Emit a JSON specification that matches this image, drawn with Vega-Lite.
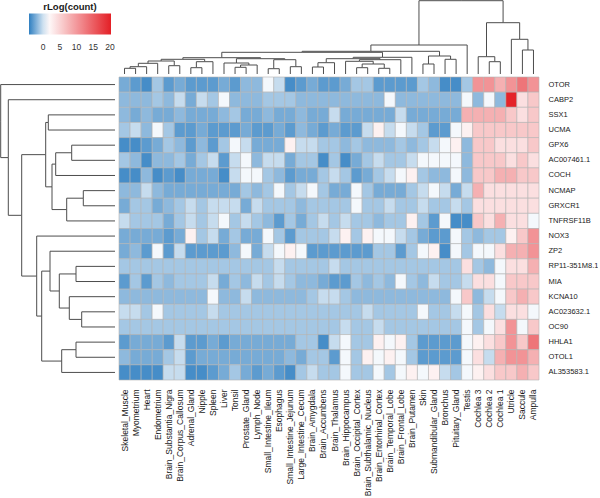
{
"$schema": "https://vega.github.io/schema/vega-lite/v6.json",
"padding": 0,
"background": "white",
"bounds": "flush",
"spacing": 3,
"config": {"view": {"stroke": null}, "font": "Liberation Sans"},
"datasets": {
"rowtree": [
{"ch":0,"cp":0.5,"ph":114.3,"pp":2.91},{"ch":106.7,"cp":5.32,"ph":114.3,"pp":2.91},
{"ch":0,"cp":1.5,"ph":106.7,"pp":5.32},{"ch":93.3,"cp":9.13,"ph":106.7,"pp":5.32},
{"ch":69.3,"cp":5.125,"ph":93.3,"pp":9.13},{"ch":78.3,"cp":13.14,"ph":93.3,"pp":9.13},
{"ch":66.7,"cp":3.0,"ph":69.3,"pp":5.125},{"ch":63,"cp":7.25,"ph":69.3,"pp":5.125},
{"ch":0,"cp":2.5,"ph":66.7,"pp":3.0},{"ch":0,"cp":3.5,"ph":66.7,"pp":3.0},
{"ch":59.3,"cp":5.75,"ph":63,"pp":7.25},{"ch":48.3,"cp":8.75,"ph":63,"pp":7.25},
{"ch":43.3,"cp":5.0,"ph":59.3,"pp":5.75},{"ch":0,"cp":6.5,"ph":59.3,"pp":5.75},
{"ch":0,"cp":4.5,"ph":43.3,"pp":5.0},{"ch":0,"cp":5.5,"ph":43.3,"pp":5.0},
{"ch":31.7,"cp":8.0,"ph":48.3,"pp":8.75},{"ch":0,"cp":9.5,"ph":48.3,"pp":8.75},
{"ch":0,"cp":7.5,"ph":31.7,"pp":8.0},{"ch":0,"cp":8.5,"ph":31.7,"pp":8.0},
{"ch":0,"cp":10.5,"ph":78.3,"pp":13.14},{"ch":73.3,"cp":15.78,"ph":78.3,"pp":13.14},
{"ch":65,"cp":12.8125,"ph":73.3,"pp":15.78},{"ch":53.3,"cp":18.75,"ph":73.3,"pp":15.78},
{"ch":0,"cp":11.5,"ph":65,"pp":12.8125},{"ch":55.7,"cp":14.125,"ph":65,"pp":12.8125},
{"ch":39,"cp":13,"ph":55.7,"pp":14.125},{"ch":45.7,"cp":15.25,"ph":55.7,"pp":14.125},
{"ch":0,"cp":12.5,"ph":39,"pp":13},{"ch":0,"cp":13.5,"ph":39,"pp":13},
{"ch":0,"cp":14.5,"ph":45.7,"pp":15.25},{"ch":33.3,"cp":16,"ph":45.7,"pp":15.25},
{"ch":0,"cp":15.5,"ph":33.3,"pp":16},{"ch":0,"cp":16.5,"ph":33.3,"pp":16},
{"ch":39,"cp":18,"ph":53.3,"pp":18.75},{"ch":0,"cp":19.5,"ph":53.3,"pp":18.75},
{"ch":0,"cp":17.5,"ph":39,"pp":18},{"ch":0,"cp":18.5,"ph":39,"pp":18}
],
"coltree": [
{"ch":0,"cp":0.5,"ph":5.7,"pp":1.0},{"ch":0,"cp":1.5,"ph":5.7,"pp":1.0},
{"ch":5.7,"cp":1.0,"ph":7.3,"pp":1.75},{"ch":0,"cp":2.5,"ph":7.3,"pp":1.75},
{"ch":7.3,"cp":1.75,"ph":10.7,"pp":2.625},{"ch":0,"cp":3.5,"ph":10.7,"pp":2.625},
{"ch":0,"cp":4.5,"ph":8.3,"pp":5.0},{"ch":0,"cp":5.5,"ph":8.3,"pp":5.0},
{"ch":10.7,"cp":2.625,"ph":13,"pp":3.8125},{"ch":8.3,"cp":5.0,"ph":13,"pp":3.8125},
{"ch":0,"cp":6.5,"ph":6.3,"pp":7.0},{"ch":0,"cp":7.5,"ph":6.3,"pp":7.0},
{"ch":6.3,"cp":7.0,"ph":12.3,"pp":7.75},{"ch":0,"cp":8.5,"ph":12.3,"pp":7.75},
{"ch":13,"cp":3.8125,"ph":14.7,"pp":5.78},{"ch":12.3,"cp":7.75,"ph":14.7,"pp":5.78},
{"ch":0,"cp":10.5,"ph":6.7,"pp":11.0},{"ch":0,"cp":11.5,"ph":6.7,"pp":11.0},
{"ch":6.7,"cp":11.0,"ph":9,"pp":11.75},{"ch":0,"cp":12.5,"ph":9,"pp":11.75},
{"ch":0,"cp":9.5,"ph":11,"pp":10.625},{"ch":9,"cp":11.75,"ph":11,"pp":10.625},
{"ch":0,"cp":13.5,"ph":5.3,"pp":14.0},{"ch":0,"cp":14.5,"ph":5.3,"pp":14.0},
{"ch":0,"cp":15.5,"ph":7.3,"pp":16.0},{"ch":0,"cp":16.5,"ph":7.3,"pp":16.0},
{"ch":5.3,"cp":14.0,"ph":14.3,"pp":15.0},{"ch":7.3,"cp":16.0,"ph":14.3,"pp":15.0},
{"ch":11,"cp":10.625,"ph":15.3,"pp":12.81},{"ch":14.3,"cp":15.0,"ph":15.3,"pp":12.81},
{"ch":14.7,"cp":5.78,"ph":16.3,"pp":9.3},{"ch":15.3,"cp":12.81,"ph":16.3,"pp":9.3},
{"ch":0,"cp":17.5,"ph":7,"pp":18.0},{"ch":0,"cp":18.5,"ph":7,"pp":18.0},
{"ch":7,"cp":18.0,"ph":11.3,"pp":18.75},{"ch":0,"cp":19.5,"ph":11.3,"pp":18.75},
{"ch":0,"cp":21.5,"ph":6.3,"pp":22.0},{"ch":0,"cp":22.5,"ph":6.3,"pp":22.0},
{"ch":0,"cp":23.5,"ph":5.7,"pp":24.0},{"ch":0,"cp":24.5,"ph":5.7,"pp":24.0},
{"ch":6.3,"cp":22.0,"ph":10,"pp":23.0},{"ch":5.7,"cp":24.0,"ph":10,"pp":23.0},
{"ch":0,"cp":20.5,"ph":12.7,"pp":21.75},{"ch":10,"cp":23.0,"ph":12.7,"pp":21.75},
{"ch":12.7,"cp":21.75,"ph":14.3,"pp":23.625},{"ch":0,"cp":25.5,"ph":14.3,"pp":23.625},
{"ch":11.3,"cp":18.75,"ph":15.3,"pp":21.19},{"ch":14.3,"cp":23.625,"ph":15.3,"pp":21.19},
{"ch":15.3,"cp":21.19,"ph":16.7,"pp":23.84},{"ch":0,"cp":26.5,"ph":16.7,"pp":23.84},
{"ch":16.3,"cp":9.3,"ph":21.7,"pp":16.57},{"ch":16.7,"cp":23.84,"ph":21.7,"pp":16.57},
{"ch":0,"cp":27.5,"ph":10,"pp":28.0},{"ch":0,"cp":28.5,"ph":10,"pp":28.0},
{"ch":0,"cp":29.5,"ph":14.7,"pp":30.0},{"ch":0,"cp":30.5,"ph":14.7,"pp":30.0},
{"ch":10,"cp":28.0,"ph":18,"pp":29.0},{"ch":14.7,"cp":30.0,"ph":18,"pp":29.0},
{"ch":21.7,"cp":16.57,"ph":22.7,"pp":22.79},{"ch":18,"cp":29.0,"ph":22.7,"pp":22.79},
{"ch":22.7,"cp":22.79,"ph":29,"pp":27.14},{"ch":0,"cp":31.5,"ph":29,"pp":27.14},
{"ch":0,"cp":33.5,"ph":12.3,"pp":34.0},{"ch":0,"cp":34.5,"ph":12.3,"pp":34.0},
{"ch":0,"cp":32.5,"ph":17.3,"pp":33.25},{"ch":12.3,"cp":34.0,"ph":17.3,"pp":33.25},
{"ch":0,"cp":36.5,"ph":24,"pp":37.0},{"ch":0,"cp":37.5,"ph":24,"pp":37.0},
{"ch":0,"cp":35.5,"ph":34.7,"pp":36.25},{"ch":24,"cp":37.0,"ph":34.7,"pp":36.25},
{"ch":17.3,"cp":33.25,"ph":51.3,"pp":34.75},{"ch":34.7,"cp":36.25,"ph":51.3,"pp":34.75},
{"ch":29,"cp":27.14,"ph":73.3,"pp":30.95},{"ch":51.3,"cp":34.75,"ph":73.3,"pp":30.95}
],
"cells": [
{"g":"OTOR","t":"Skeletal_Muscle","v":-2.3},{"g":"OTOR","t":"Myometrium","v":-3.0},{"g":"OTOR","t":"Heart","v":-3.6},{"g":"OTOR","t":"Endometrium","v":-1.1},{"g":"OTOR","t":"Brain_Substantia_Nigra","v":-3.0},{"g":"OTOR","t":"Brain_Corpus_Callosum","v":-2.3},{"g":"OTOR","t":"Adrenal_Gland","v":-3.0},{"g":"OTOR","t":"Nipple","v":-3.0},{"g":"OTOR","t":"Spleen","v":-3.0},{"g":"OTOR","t":"Liver","v":-2.3},{"g":"OTOR","t":"Tonsil","v":-3.0},{"g":"OTOR","t":"Prostate_Gland","v":-1.7},{"g":"OTOR","t":"Lymph_Node","v":-1.7},{"g":"OTOR","t":"Small_Intestine_Ileum","v":1.0},{"g":"OTOR","t":"Esophagus","v":-0.2},{"g":"OTOR","t":"Small_Intestine_Jejunum","v":-3.6},{"g":"OTOR","t":"Large_Intestine_Cecum","v":-3.0},{"g":"OTOR","t":"Brain_Amygdala","v":-2.3},{"g":"OTOR","t":"Brain_Accumbens","v":-3.0},{"g":"OTOR","t":"Brain_Thalamus","v":-3.0},{"g":"OTOR","t":"Brain_Hippocampus","v":-2.3},{"g":"OTOR","t":"Brain_Occipital_Cortex","v":-1.1},{"g":"OTOR","t":"Brain_Subthalamic_Nucleus","v":-1.1},{"g":"OTOR","t":"Brain_Entorhinal_Cortex","v":-3.0},{"g":"OTOR","t":"Brain_Temporal_Lobe","v":-3.0},{"g":"OTOR","t":"Brain_Frontal_Lobe","v":-3.0},{"g":"OTOR","t":"Brain_Putamen","v":-3.0},{"g":"OTOR","t":"Skin","v":-1.1},{"g":"OTOR","t":"Submandibular_Gland","v":-1.7},{"g":"OTOR","t":"Bronchus","v":-3.6},{"g":"OTOR","t":"Pituitary_Gland","v":-3.6},{"g":"OTOR","t":"Testis","v":-1.1},{"g":"OTOR","t":"Cochlea 3","v":10.5},{"g":"OTOR","t":"Cochlea 2","v":10.5},{"g":"OTOR","t":"Cochlea 1","v":8},{"g":"OTOR","t":"Utricle","v":10.5},{"g":"OTOR","t":"Saccule","v":13},{"g":"OTOR","t":"Ampulla","v":10.5},
{"g":"CABP2","t":"Skeletal_Muscle","v":-1.7},{"g":"CABP2","t":"Myometrium","v":-1.7},{"g":"CABP2","t":"Heart","v":-1.7},{"g":"CABP2","t":"Endometrium","v":-1.1},{"g":"CABP2","t":"Brain_Substantia_Nigra","v":-1.7},{"g":"CABP2","t":"Brain_Corpus_Callosum","v":-0.2},{"g":"CABP2","t":"Adrenal_Gland","v":-2.3},{"g":"CABP2","t":"Nipple","v":-0.2},{"g":"CABP2","t":"Spleen","v":-1.1},{"g":"CABP2","t":"Liver","v":1.0},{"g":"CABP2","t":"Tonsil","v":-1.7},{"g":"CABP2","t":"Prostate_Gland","v":-1.7},{"g":"CABP2","t":"Lymph_Node","v":-1.7},{"g":"CABP2","t":"Small_Intestine_Ileum","v":-1.1},{"g":"CABP2","t":"Esophagus","v":-1.1},{"g":"CABP2","t":"Small_Intestine_Jejunum","v":-1.1},{"g":"CABP2","t":"Large_Intestine_Cecum","v":-1.7},{"g":"CABP2","t":"Brain_Amygdala","v":-1.7},{"g":"CABP2","t":"Brain_Accumbens","v":-1.7},{"g":"CABP2","t":"Brain_Thalamus","v":-1.7},{"g":"CABP2","t":"Brain_Hippocampus","v":-1.7},{"g":"CABP2","t":"Brain_Occipital_Cortex","v":-1.7},{"g":"CABP2","t":"Brain_Subthalamic_Nucleus","v":-1.7},{"g":"CABP2","t":"Brain_Entorhinal_Cortex","v":-1.7},{"g":"CABP2","t":"Brain_Temporal_Lobe","v":1.0},{"g":"CABP2","t":"Brain_Frontal_Lobe","v":-1.7},{"g":"CABP2","t":"Brain_Putamen","v":-1.7},{"g":"CABP2","t":"Skin","v":-1.7},{"g":"CABP2","t":"Submandibular_Gland","v":-1.7},{"g":"CABP2","t":"Bronchus","v":-1.7},{"g":"CABP2","t":"Pituitary_Gland","v":-1.7},{"g":"CABP2","t":"Testis","v":1.0},{"g":"CABP2","t":"Cochlea 3","v":-1.7},{"g":"CABP2","t":"Cochlea 2","v":1.0},{"g":"CABP2","t":"Cochlea 1","v":-1.7},{"g":"CABP2","t":"Utricle","v":20},{"g":"CABP2","t":"Saccule","v":4},{"g":"CABP2","t":"Ampulla","v":6},
{"g":"SSX1","t":"Skeletal_Muscle","v":-1.7},{"g":"SSX1","t":"Myometrium","v":-2.3},{"g":"SSX1","t":"Heart","v":-1.7},{"g":"SSX1","t":"Endometrium","v":-2.3},{"g":"SSX1","t":"Brain_Substantia_Nigra","v":-2.3},{"g":"SSX1","t":"Brain_Corpus_Callosum","v":-1.7},{"g":"SSX1","t":"Adrenal_Gland","v":-2.3},{"g":"SSX1","t":"Nipple","v":-2.3},{"g":"SSX1","t":"Spleen","v":-2.3},{"g":"SSX1","t":"Liver","v":-1.7},{"g":"SSX1","t":"Tonsil","v":-1.1},{"g":"SSX1","t":"Prostate_Gland","v":-2.3},{"g":"SSX1","t":"Lymph_Node","v":-2.3},{"g":"SSX1","t":"Small_Intestine_Ileum","v":-1.7},{"g":"SSX1","t":"Esophagus","v":-2.3},{"g":"SSX1","t":"Small_Intestine_Jejunum","v":-2.3},{"g":"SSX1","t":"Large_Intestine_Cecum","v":-1.7},{"g":"SSX1","t":"Brain_Amygdala","v":-2.3},{"g":"SSX1","t":"Brain_Accumbens","v":-2.3},{"g":"SSX1","t":"Brain_Thalamus","v":-0.2},{"g":"SSX1","t":"Brain_Hippocampus","v":-2.3},{"g":"SSX1","t":"Brain_Occipital_Cortex","v":-2.3},{"g":"SSX1","t":"Brain_Subthalamic_Nucleus","v":-2.3},{"g":"SSX1","t":"Brain_Entorhinal_Cortex","v":-2.3},{"g":"SSX1","t":"Brain_Temporal_Lobe","v":-2.3},{"g":"SSX1","t":"Brain_Frontal_Lobe","v":-0.2},{"g":"SSX1","t":"Brain_Putamen","v":-2.3},{"g":"SSX1","t":"Skin","v":-2.3},{"g":"SSX1","t":"Submandibular_Gland","v":-2.3},{"g":"SSX1","t":"Bronchus","v":-2.3},{"g":"SSX1","t":"Pituitary_Gland","v":-2.3},{"g":"SSX1","t":"Testis","v":8},{"g":"SSX1","t":"Cochlea 3","v":8},{"g":"SSX1","t":"Cochlea 2","v":8},{"g":"SSX1","t":"Cochlea 1","v":8},{"g":"SSX1","t":"Utricle","v":6},{"g":"SSX1","t":"Saccule","v":4},{"g":"SSX1","t":"Ampulla","v":6},
{"g":"UCMA","t":"Skeletal_Muscle","v":-1.1},{"g":"UCMA","t":"Myometrium","v":-0.2},{"g":"UCMA","t":"Heart","v":-1.7},{"g":"UCMA","t":"Endometrium","v":1.0},{"g":"UCMA","t":"Brain_Substantia_Nigra","v":-1.1},{"g":"UCMA","t":"Brain_Corpus_Callosum","v":-3.0},{"g":"UCMA","t":"Adrenal_Gland","v":-3.0},{"g":"UCMA","t":"Nipple","v":-2.3},{"g":"UCMA","t":"Spleen","v":-3.0},{"g":"UCMA","t":"Liver","v":-3.0},{"g":"UCMA","t":"Tonsil","v":-3.0},{"g":"UCMA","t":"Prostate_Gland","v":-2.3},{"g":"UCMA","t":"Lymph_Node","v":-3.0},{"g":"UCMA","t":"Small_Intestine_Ileum","v":-3.0},{"g":"UCMA","t":"Esophagus","v":-2.3},{"g":"UCMA","t":"Small_Intestine_Jejunum","v":-3.0},{"g":"UCMA","t":"Large_Intestine_Cecum","v":-1.7},{"g":"UCMA","t":"Brain_Amygdala","v":-2.3},{"g":"UCMA","t":"Brain_Accumbens","v":-3.0},{"g":"UCMA","t":"Brain_Thalamus","v":-2.3},{"g":"UCMA","t":"Brain_Hippocampus","v":-3.0},{"g":"UCMA","t":"Brain_Occipital_Cortex","v":-3.0},{"g":"UCMA","t":"Brain_Subthalamic_Nucleus","v":-0.2},{"g":"UCMA","t":"Brain_Entorhinal_Cortex","v":2.5},{"g":"UCMA","t":"Brain_Temporal_Lobe","v":-0.2},{"g":"UCMA","t":"Brain_Frontal_Lobe","v":1.0},{"g":"UCMA","t":"Brain_Putamen","v":-0.2},{"g":"UCMA","t":"Skin","v":-1.1},{"g":"UCMA","t":"Submandibular_Gland","v":-3.0},{"g":"UCMA","t":"Bronchus","v":-3.0},{"g":"UCMA","t":"Pituitary_Gland","v":1.0},{"g":"UCMA","t":"Testis","v":2.5},{"g":"UCMA","t":"Cochlea 3","v":6},{"g":"UCMA","t":"Cochlea 2","v":6},{"g":"UCMA","t":"Cochlea 1","v":6},{"g":"UCMA","t":"Utricle","v":6},{"g":"UCMA","t":"Saccule","v":6},{"g":"UCMA","t":"Ampulla","v":6},
{"g":"GPX6","t":"Skeletal_Muscle","v":-3.6},{"g":"GPX6","t":"Myometrium","v":-3.6},{"g":"GPX6","t":"Heart","v":-3.0},{"g":"GPX6","t":"Endometrium","v":-2.3},{"g":"GPX6","t":"Brain_Substantia_Nigra","v":-1.1},{"g":"GPX6","t":"Brain_Corpus_Callosum","v":-1.7},{"g":"GPX6","t":"Adrenal_Gland","v":-3.0},{"g":"GPX6","t":"Nipple","v":-1.7},{"g":"GPX6","t":"Spleen","v":-3.0},{"g":"GPX6","t":"Liver","v":-1.1},{"g":"GPX6","t":"Tonsil","v":1.0},{"g":"GPX6","t":"Prostate_Gland","v":-0.2},{"g":"GPX6","t":"Lymph_Node","v":-2.3},{"g":"GPX6","t":"Small_Intestine_Ileum","v":-2.3},{"g":"GPX6","t":"Esophagus","v":-2.3},{"g":"GPX6","t":"Small_Intestine_Jejunum","v":2.5},{"g":"GPX6","t":"Large_Intestine_Cecum","v":-0.2},{"g":"GPX6","t":"Brain_Amygdala","v":-0.2},{"g":"GPX6","t":"Brain_Accumbens","v":-1.1},{"g":"GPX6","t":"Brain_Thalamus","v":-1.1},{"g":"GPX6","t":"Brain_Hippocampus","v":-1.7},{"g":"GPX6","t":"Brain_Occipital_Cortex","v":-1.1},{"g":"GPX6","t":"Brain_Subthalamic_Nucleus","v":-1.7},{"g":"GPX6","t":"Brain_Entorhinal_Cortex","v":-1.7},{"g":"GPX6","t":"Brain_Temporal_Lobe","v":-1.7},{"g":"GPX6","t":"Brain_Frontal_Lobe","v":-1.1},{"g":"GPX6","t":"Brain_Putamen","v":-1.7},{"g":"GPX6","t":"Skin","v":-1.1},{"g":"GPX6","t":"Submandibular_Gland","v":-0.2},{"g":"GPX6","t":"Bronchus","v":1.0},{"g":"GPX6","t":"Pituitary_Gland","v":2.5},{"g":"GPX6","t":"Testis","v":-1.7},{"g":"GPX6","t":"Cochlea 3","v":6},{"g":"GPX6","t":"Cochlea 2","v":6},{"g":"GPX6","t":"Cochlea 1","v":4},{"g":"GPX6","t":"Utricle","v":4},{"g":"GPX6","t":"Saccule","v":4},{"g":"GPX6","t":"Ampulla","v":6},
{"g":"AC007461.1","t":"Skeletal_Muscle","v":-1.1},{"g":"AC007461.1","t":"Myometrium","v":-1.7},{"g":"AC007461.1","t":"Heart","v":-3.6},{"g":"AC007461.1","t":"Endometrium","v":-1.7},{"g":"AC007461.1","t":"Brain_Substantia_Nigra","v":-1.7},{"g":"AC007461.1","t":"Brain_Corpus_Callosum","v":-1.1},{"g":"AC007461.1","t":"Adrenal_Gland","v":-2.3},{"g":"AC007461.1","t":"Nipple","v":-1.1},{"g":"AC007461.1","t":"Spleen","v":-0.2},{"g":"AC007461.1","t":"Liver","v":-3.0},{"g":"AC007461.1","t":"Tonsil","v":-0.2},{"g":"AC007461.1","t":"Prostate_Gland","v":1.0},{"g":"AC007461.1","t":"Lymph_Node","v":-1.7},{"g":"AC007461.1","t":"Small_Intestine_Ileum","v":-0.2},{"g":"AC007461.1","t":"Esophagus","v":-0.2},{"g":"AC007461.1","t":"Small_Intestine_Jejunum","v":-2.3},{"g":"AC007461.1","t":"Large_Intestine_Cecum","v":-1.1},{"g":"AC007461.1","t":"Brain_Amygdala","v":-1.1},{"g":"AC007461.1","t":"Brain_Accumbens","v":-3.6},{"g":"AC007461.1","t":"Brain_Thalamus","v":-1.1},{"g":"AC007461.1","t":"Brain_Hippocampus","v":-3.6},{"g":"AC007461.1","t":"Brain_Occipital_Cortex","v":-2.3},{"g":"AC007461.1","t":"Brain_Subthalamic_Nucleus","v":-1.1},{"g":"AC007461.1","t":"Brain_Entorhinal_Cortex","v":-0.2},{"g":"AC007461.1","t":"Brain_Temporal_Lobe","v":-1.1},{"g":"AC007461.1","t":"Brain_Frontal_Lobe","v":-1.1},{"g":"AC007461.1","t":"Brain_Putamen","v":-0.2},{"g":"AC007461.1","t":"Skin","v":1.0},{"g":"AC007461.1","t":"Submandibular_Gland","v":1.0},{"g":"AC007461.1","t":"Bronchus","v":1.0},{"g":"AC007461.1","t":"Pituitary_Gland","v":1.0},{"g":"AC007461.1","t":"Testis","v":-1.7},{"g":"AC007461.1","t":"Cochlea 3","v":6},{"g":"AC007461.1","t":"Cochlea 2","v":6},{"g":"AC007461.1","t":"Cochlea 1","v":6},{"g":"AC007461.1","t":"Utricle","v":4},{"g":"AC007461.1","t":"Saccule","v":6},{"g":"AC007461.1","t":"Ampulla","v":4},
{"g":"COCH","t":"Skeletal_Muscle","v":-3.6},{"g":"COCH","t":"Myometrium","v":-3.6},{"g":"COCH","t":"Heart","v":-1.7},{"g":"COCH","t":"Endometrium","v":-3.6},{"g":"COCH","t":"Brain_Substantia_Nigra","v":-3.0},{"g":"COCH","t":"Brain_Corpus_Callosum","v":-3.6},{"g":"COCH","t":"Adrenal_Gland","v":-2.3},{"g":"COCH","t":"Nipple","v":-2.3},{"g":"COCH","t":"Spleen","v":-2.3},{"g":"COCH","t":"Liver","v":-3.6},{"g":"COCH","t":"Tonsil","v":-0.2},{"g":"COCH","t":"Prostate_Gland","v":1.0},{"g":"COCH","t":"Lymph_Node","v":1.0},{"g":"COCH","t":"Small_Intestine_Ileum","v":-1.1},{"g":"COCH","t":"Esophagus","v":-1.7},{"g":"COCH","t":"Small_Intestine_Jejunum","v":-3.0},{"g":"COCH","t":"Large_Intestine_Cecum","v":-2.3},{"g":"COCH","t":"Brain_Amygdala","v":-2.3},{"g":"COCH","t":"Brain_Accumbens","v":-1.1},{"g":"COCH","t":"Brain_Thalamus","v":-0.2},{"g":"COCH","t":"Brain_Hippocampus","v":-1.1},{"g":"COCH","t":"Brain_Occipital_Cortex","v":-3.0},{"g":"COCH","t":"Brain_Subthalamic_Nucleus","v":-2.3},{"g":"COCH","t":"Brain_Entorhinal_Cortex","v":-1.1},{"g":"COCH","t":"Brain_Temporal_Lobe","v":-0.2},{"g":"COCH","t":"Brain_Frontal_Lobe","v":1.0},{"g":"COCH","t":"Brain_Putamen","v":2.5},{"g":"COCH","t":"Skin","v":-1.1},{"g":"COCH","t":"Submandibular_Gland","v":-1.7},{"g":"COCH","t":"Bronchus","v":-1.7},{"g":"COCH","t":"Pituitary_Gland","v":1.0},{"g":"COCH","t":"Testis","v":-1.7},{"g":"COCH","t":"Cochlea 3","v":6},{"g":"COCH","t":"Cochlea 2","v":6},{"g":"COCH","t":"Cochlea 1","v":8},{"g":"COCH","t":"Utricle","v":8},{"g":"COCH","t":"Saccule","v":6},{"g":"COCH","t":"Ampulla","v":6},
{"g":"NCMAP","t":"Skeletal_Muscle","v":-1.7},{"g":"NCMAP","t":"Myometrium","v":-1.7},{"g":"NCMAP","t":"Heart","v":-0.2},{"g":"NCMAP","t":"Endometrium","v":-1.7},{"g":"NCMAP","t":"Brain_Substantia_Nigra","v":-2.3},{"g":"NCMAP","t":"Brain_Corpus_Callosum","v":-2.3},{"g":"NCMAP","t":"Adrenal_Gland","v":-2.3},{"g":"NCMAP","t":"Nipple","v":-2.3},{"g":"NCMAP","t":"Spleen","v":-2.3},{"g":"NCMAP","t":"Liver","v":-2.3},{"g":"NCMAP","t":"Tonsil","v":-2.3},{"g":"NCMAP","t":"Prostate_Gland","v":-1.1},{"g":"NCMAP","t":"Lymph_Node","v":-1.7},{"g":"NCMAP","t":"Small_Intestine_Ileum","v":-1.1},{"g":"NCMAP","t":"Esophagus","v":1.0},{"g":"NCMAP","t":"Small_Intestine_Jejunum","v":-1.1},{"g":"NCMAP","t":"Large_Intestine_Cecum","v":-0.2},{"g":"NCMAP","t":"Brain_Amygdala","v":1.0},{"g":"NCMAP","t":"Brain_Accumbens","v":-1.1},{"g":"NCMAP","t":"Brain_Thalamus","v":-2.3},{"g":"NCMAP","t":"Brain_Hippocampus","v":-2.3},{"g":"NCMAP","t":"Brain_Occipital_Cortex","v":1.0},{"g":"NCMAP","t":"Brain_Subthalamic_Nucleus","v":-1.1},{"g":"NCMAP","t":"Brain_Entorhinal_Cortex","v":-2.3},{"g":"NCMAP","t":"Brain_Temporal_Lobe","v":-2.3},{"g":"NCMAP","t":"Brain_Frontal_Lobe","v":-2.3},{"g":"NCMAP","t":"Brain_Putamen","v":-1.1},{"g":"NCMAP","t":"Skin","v":-0.2},{"g":"NCMAP","t":"Submandibular_Gland","v":1.0},{"g":"NCMAP","t":"Bronchus","v":-0.2},{"g":"NCMAP","t":"Pituitary_Gland","v":-2.3},{"g":"NCMAP","t":"Testis","v":-0.2},{"g":"NCMAP","t":"Cochlea 3","v":8},{"g":"NCMAP","t":"Cochlea 2","v":4},{"g":"NCMAP","t":"Cochlea 1","v":4},{"g":"NCMAP","t":"Utricle","v":4},{"g":"NCMAP","t":"Saccule","v":4},{"g":"NCMAP","t":"Ampulla","v":4},
{"g":"GRXCR1","t":"Skeletal_Muscle","v":-2.3},{"g":"GRXCR1","t":"Myometrium","v":-1.1},{"g":"GRXCR1","t":"Heart","v":-1.1},{"g":"GRXCR1","t":"Endometrium","v":-2.3},{"g":"GRXCR1","t":"Brain_Substantia_Nigra","v":-1.7},{"g":"GRXCR1","t":"Brain_Corpus_Callosum","v":-1.1},{"g":"GRXCR1","t":"Adrenal_Gland","v":-0.2},{"g":"GRXCR1","t":"Nipple","v":-1.1},{"g":"GRXCR1","t":"Spleen","v":-0.2},{"g":"GRXCR1","t":"Liver","v":-0.2},{"g":"GRXCR1","t":"Tonsil","v":-0.2},{"g":"GRXCR1","t":"Prostate_Gland","v":-2.3},{"g":"GRXCR1","t":"Lymph_Node","v":-0.2},{"g":"GRXCR1","t":"Small_Intestine_Ileum","v":-1.1},{"g":"GRXCR1","t":"Esophagus","v":-1.1},{"g":"GRXCR1","t":"Small_Intestine_Jejunum","v":-1.1},{"g":"GRXCR1","t":"Large_Intestine_Cecum","v":-1.7},{"g":"GRXCR1","t":"Brain_Amygdala","v":-1.1},{"g":"GRXCR1","t":"Brain_Accumbens","v":-1.1},{"g":"GRXCR1","t":"Brain_Thalamus","v":-1.1},{"g":"GRXCR1","t":"Brain_Hippocampus","v":-1.1},{"g":"GRXCR1","t":"Brain_Occipital_Cortex","v":1.0},{"g":"GRXCR1","t":"Brain_Subthalamic_Nucleus","v":-1.1},{"g":"GRXCR1","t":"Brain_Entorhinal_Cortex","v":-1.1},{"g":"GRXCR1","t":"Brain_Temporal_Lobe","v":-0.2},{"g":"GRXCR1","t":"Brain_Frontal_Lobe","v":-1.1},{"g":"GRXCR1","t":"Brain_Putamen","v":-1.1},{"g":"GRXCR1","t":"Skin","v":-0.2},{"g":"GRXCR1","t":"Submandibular_Gland","v":-1.1},{"g":"GRXCR1","t":"Bronchus","v":-1.1},{"g":"GRXCR1","t":"Pituitary_Gland","v":-0.2},{"g":"GRXCR1","t":"Testis","v":-1.1},{"g":"GRXCR1","t":"Cochlea 3","v":4},{"g":"GRXCR1","t":"Cochlea 2","v":4},{"g":"GRXCR1","t":"Cochlea 1","v":4},{"g":"GRXCR1","t":"Utricle","v":4},{"g":"GRXCR1","t":"Saccule","v":4},{"g":"GRXCR1","t":"Ampulla","v":4},
{"g":"TNFRSF11B","t":"Skeletal_Muscle","v":-0.2},{"g":"TNFRSF11B","t":"Myometrium","v":-1.1},{"g":"TNFRSF11B","t":"Heart","v":-1.1},{"g":"TNFRSF11B","t":"Endometrium","v":-1.1},{"g":"TNFRSF11B","t":"Brain_Substantia_Nigra","v":-2.3},{"g":"TNFRSF11B","t":"Brain_Corpus_Callosum","v":-1.1},{"g":"TNFRSF11B","t":"Adrenal_Gland","v":-0.2},{"g":"TNFRSF11B","t":"Nipple","v":-1.1},{"g":"TNFRSF11B","t":"Spleen","v":-0.2},{"g":"TNFRSF11B","t":"Liver","v":1.0},{"g":"TNFRSF11B","t":"Tonsil","v":-1.1},{"g":"TNFRSF11B","t":"Prostate_Gland","v":-0.2},{"g":"TNFRSF11B","t":"Lymph_Node","v":-1.1},{"g":"TNFRSF11B","t":"Small_Intestine_Ileum","v":-1.7},{"g":"TNFRSF11B","t":"Esophagus","v":-3.0},{"g":"TNFRSF11B","t":"Small_Intestine_Jejunum","v":-1.1},{"g":"TNFRSF11B","t":"Large_Intestine_Cecum","v":-2.3},{"g":"TNFRSF11B","t":"Brain_Amygdala","v":-1.1},{"g":"TNFRSF11B","t":"Brain_Accumbens","v":-0.2},{"g":"TNFRSF11B","t":"Brain_Thalamus","v":-1.1},{"g":"TNFRSF11B","t":"Brain_Hippocampus","v":-0.2},{"g":"TNFRSF11B","t":"Brain_Occipital_Cortex","v":-1.1},{"g":"TNFRSF11B","t":"Brain_Subthalamic_Nucleus","v":-1.1},{"g":"TNFRSF11B","t":"Brain_Entorhinal_Cortex","v":-1.7},{"g":"TNFRSF11B","t":"Brain_Temporal_Lobe","v":-1.1},{"g":"TNFRSF11B","t":"Brain_Frontal_Lobe","v":-1.1},{"g":"TNFRSF11B","t":"Brain_Putamen","v":2.5},{"g":"TNFRSF11B","t":"Skin","v":-1.1},{"g":"TNFRSF11B","t":"Submandibular_Gland","v":-3.0},{"g":"TNFRSF11B","t":"Bronchus","v":1.0},{"g":"TNFRSF11B","t":"Pituitary_Gland","v":-3.6},{"g":"TNFRSF11B","t":"Testis","v":-3.6},{"g":"TNFRSF11B","t":"Cochlea 3","v":6},{"g":"TNFRSF11B","t":"Cochlea 2","v":4},{"g":"TNFRSF11B","t":"Cochlea 1","v":8},{"g":"TNFRSF11B","t":"Utricle","v":4},{"g":"TNFRSF11B","t":"Saccule","v":4},{"g":"TNFRSF11B","t":"Ampulla","v":1.0},
{"g":"NOX3","t":"Skeletal_Muscle","v":-2.3},{"g":"NOX3","t":"Myometrium","v":-2.3},{"g":"NOX3","t":"Heart","v":-2.3},{"g":"NOX3","t":"Endometrium","v":-2.3},{"g":"NOX3","t":"Brain_Substantia_Nigra","v":-3.0},{"g":"NOX3","t":"Brain_Corpus_Callosum","v":-2.3},{"g":"NOX3","t":"Adrenal_Gland","v":2.5},{"g":"NOX3","t":"Nipple","v":-1.1},{"g":"NOX3","t":"Spleen","v":-0.2},{"g":"NOX3","t":"Liver","v":-2.3},{"g":"NOX3","t":"Tonsil","v":-1.1},{"g":"NOX3","t":"Prostate_Gland","v":-2.3},{"g":"NOX3","t":"Lymph_Node","v":-2.3},{"g":"NOX3","t":"Small_Intestine_Ileum","v":1.0},{"g":"NOX3","t":"Esophagus","v":-1.1},{"g":"NOX3","t":"Small_Intestine_Jejunum","v":-3.0},{"g":"NOX3","t":"Large_Intestine_Cecum","v":-1.1},{"g":"NOX3","t":"Brain_Amygdala","v":-1.1},{"g":"NOX3","t":"Brain_Accumbens","v":-1.1},{"g":"NOX3","t":"Brain_Thalamus","v":-0.2},{"g":"NOX3","t":"Brain_Hippocampus","v":2.5},{"g":"NOX3","t":"Brain_Occipital_Cortex","v":-1.1},{"g":"NOX3","t":"Brain_Subthalamic_Nucleus","v":2.5},{"g":"NOX3","t":"Brain_Entorhinal_Cortex","v":1.0},{"g":"NOX3","t":"Brain_Temporal_Lobe","v":1.0},{"g":"NOX3","t":"Brain_Frontal_Lobe","v":-0.2},{"g":"NOX3","t":"Brain_Putamen","v":-1.1},{"g":"NOX3","t":"Skin","v":-2.3},{"g":"NOX3","t":"Submandibular_Gland","v":-3.0},{"g":"NOX3","t":"Bronchus","v":-3.0},{"g":"NOX3","t":"Pituitary_Gland","v":1.0},{"g":"NOX3","t":"Testis","v":-1.1},{"g":"NOX3","t":"Cochlea 3","v":-1.7},{"g":"NOX3","t":"Cochlea 2","v":-1.1},{"g":"NOX3","t":"Cochlea 1","v":-1.1},{"g":"NOX3","t":"Utricle","v":2.5},{"g":"NOX3","t":"Saccule","v":6},{"g":"NOX3","t":"Ampulla","v":10.5},
{"g":"ZP2","t":"Skeletal_Muscle","v":-2.3},{"g":"ZP2","t":"Myometrium","v":-1.7},{"g":"ZP2","t":"Heart","v":-3.0},{"g":"ZP2","t":"Endometrium","v":1.0},{"g":"ZP2","t":"Brain_Substantia_Nigra","v":-3.0},{"g":"ZP2","t":"Brain_Corpus_Callosum","v":-0.2},{"g":"ZP2","t":"Adrenal_Gland","v":-3.0},{"g":"ZP2","t":"Nipple","v":-3.0},{"g":"ZP2","t":"Spleen","v":-3.0},{"g":"ZP2","t":"Liver","v":-3.0},{"g":"ZP2","t":"Tonsil","v":-1.7},{"g":"ZP2","t":"Prostate_Gland","v":1.0},{"g":"ZP2","t":"Lymph_Node","v":-2.3},{"g":"ZP2","t":"Small_Intestine_Ileum","v":-0.2},{"g":"ZP2","t":"Esophagus","v":1.0},{"g":"ZP2","t":"Small_Intestine_Jejunum","v":2.5},{"g":"ZP2","t":"Large_Intestine_Cecum","v":1.0},{"g":"ZP2","t":"Brain_Amygdala","v":-3.0},{"g":"ZP2","t":"Brain_Accumbens","v":-3.0},{"g":"ZP2","t":"Brain_Thalamus","v":-3.0},{"g":"ZP2","t":"Brain_Hippocampus","v":-3.0},{"g":"ZP2","t":"Brain_Occipital_Cortex","v":-3.0},{"g":"ZP2","t":"Brain_Subthalamic_Nucleus","v":-3.0},{"g":"ZP2","t":"Brain_Entorhinal_Cortex","v":-1.1},{"g":"ZP2","t":"Brain_Temporal_Lobe","v":-1.1},{"g":"ZP2","t":"Brain_Frontal_Lobe","v":-3.0},{"g":"ZP2","t":"Brain_Putamen","v":-1.1},{"g":"ZP2","t":"Skin","v":1.0},{"g":"ZP2","t":"Submandibular_Gland","v":2.5},{"g":"ZP2","t":"Bronchus","v":-3.6},{"g":"ZP2","t":"Pituitary_Gland","v":1.0},{"g":"ZP2","t":"Testis","v":-1.1},{"g":"ZP2","t":"Cochlea 3","v":1.0},{"g":"ZP2","t":"Cochlea 2","v":1.0},{"g":"ZP2","t":"Cochlea 1","v":4},{"g":"ZP2","t":"Utricle","v":8},{"g":"ZP2","t":"Saccule","v":8},{"g":"ZP2","t":"Ampulla","v":10.5},
{"g":"RP11-351M8.1","t":"Skeletal_Muscle","v":-1.1},{"g":"RP11-351M8.1","t":"Myometrium","v":-1.1},{"g":"RP11-351M8.1","t":"Heart","v":-1.1},{"g":"RP11-351M8.1","t":"Endometrium","v":-1.1},{"g":"RP11-351M8.1","t":"Brain_Substantia_Nigra","v":-1.1},{"g":"RP11-351M8.1","t":"Brain_Corpus_Callosum","v":-1.1},{"g":"RP11-351M8.1","t":"Adrenal_Gland","v":-1.1},{"g":"RP11-351M8.1","t":"Nipple","v":-1.1},{"g":"RP11-351M8.1","t":"Spleen","v":-1.1},{"g":"RP11-351M8.1","t":"Liver","v":-1.1},{"g":"RP11-351M8.1","t":"Tonsil","v":-1.1},{"g":"RP11-351M8.1","t":"Prostate_Gland","v":-1.1},{"g":"RP11-351M8.1","t":"Lymph_Node","v":-1.1},{"g":"RP11-351M8.1","t":"Small_Intestine_Ileum","v":-1.1},{"g":"RP11-351M8.1","t":"Esophagus","v":-0.2},{"g":"RP11-351M8.1","t":"Small_Intestine_Jejunum","v":-1.1},{"g":"RP11-351M8.1","t":"Large_Intestine_Cecum","v":-1.1},{"g":"RP11-351M8.1","t":"Brain_Amygdala","v":-1.1},{"g":"RP11-351M8.1","t":"Brain_Accumbens","v":-1.1},{"g":"RP11-351M8.1","t":"Brain_Thalamus","v":-0.2},{"g":"RP11-351M8.1","t":"Brain_Hippocampus","v":-1.1},{"g":"RP11-351M8.1","t":"Brain_Occipital_Cortex","v":-1.1},{"g":"RP11-351M8.1","t":"Brain_Subthalamic_Nucleus","v":-1.1},{"g":"RP11-351M8.1","t":"Brain_Entorhinal_Cortex","v":-1.1},{"g":"RP11-351M8.1","t":"Brain_Temporal_Lobe","v":-1.1},{"g":"RP11-351M8.1","t":"Brain_Frontal_Lobe","v":-1.1},{"g":"RP11-351M8.1","t":"Brain_Putamen","v":-1.1},{"g":"RP11-351M8.1","t":"Skin","v":-1.1},{"g":"RP11-351M8.1","t":"Submandibular_Gland","v":-1.1},{"g":"RP11-351M8.1","t":"Bronchus","v":-1.1},{"g":"RP11-351M8.1","t":"Pituitary_Gland","v":-1.1},{"g":"RP11-351M8.1","t":"Testis","v":4},{"g":"RP11-351M8.1","t":"Cochlea 3","v":-1.1},{"g":"RP11-351M8.1","t":"Cochlea 2","v":-1.7},{"g":"RP11-351M8.1","t":"Cochlea 1","v":1.0},{"g":"RP11-351M8.1","t":"Utricle","v":4},{"g":"RP11-351M8.1","t":"Saccule","v":4},{"g":"RP11-351M8.1","t":"Ampulla","v":8},
{"g":"MIA","t":"Skeletal_Muscle","v":-3.0},{"g":"MIA","t":"Myometrium","v":-1.1},{"g":"MIA","t":"Heart","v":-3.0},{"g":"MIA","t":"Endometrium","v":-1.1},{"g":"MIA","t":"Brain_Substantia_Nigra","v":-1.7},{"g":"MIA","t":"Brain_Corpus_Callosum","v":-1.1},{"g":"MIA","t":"Adrenal_Gland","v":-1.1},{"g":"MIA","t":"Nipple","v":-1.1},{"g":"MIA","t":"Spleen","v":-0.2},{"g":"MIA","t":"Liver","v":-2.3},{"g":"MIA","t":"Tonsil","v":-1.1},{"g":"MIA","t":"Prostate_Gland","v":-1.7},{"g":"MIA","t":"Lymph_Node","v":-0.2},{"g":"MIA","t":"Small_Intestine_Ileum","v":-1.1},{"g":"MIA","t":"Esophagus","v":-0.2},{"g":"MIA","t":"Small_Intestine_Jejunum","v":-1.1},{"g":"MIA","t":"Large_Intestine_Cecum","v":-1.7},{"g":"MIA","t":"Brain_Amygdala","v":-1.7},{"g":"MIA","t":"Brain_Accumbens","v":-2.3},{"g":"MIA","t":"Brain_Thalamus","v":-3.0},{"g":"MIA","t":"Brain_Hippocampus","v":-3.0},{"g":"MIA","t":"Brain_Occipital_Cortex","v":-1.1},{"g":"MIA","t":"Brain_Subthalamic_Nucleus","v":-1.7},{"g":"MIA","t":"Brain_Entorhinal_Cortex","v":-1.1},{"g":"MIA","t":"Brain_Temporal_Lobe","v":-1.7},{"g":"MIA","t":"Brain_Frontal_Lobe","v":1.0},{"g":"MIA","t":"Brain_Putamen","v":-1.1},{"g":"MIA","t":"Skin","v":-1.7},{"g":"MIA","t":"Submandibular_Gland","v":-0.2},{"g":"MIA","t":"Bronchus","v":-1.1},{"g":"MIA","t":"Pituitary_Gland","v":-1.1},{"g":"MIA","t":"Testis","v":-0.2},{"g":"MIA","t":"Cochlea 3","v":4},{"g":"MIA","t":"Cochlea 2","v":4},{"g":"MIA","t":"Cochlea 1","v":1.0},{"g":"MIA","t":"Utricle","v":6},{"g":"MIA","t":"Saccule","v":6},{"g":"MIA","t":"Ampulla","v":6},
{"g":"KCNA10","t":"Skeletal_Muscle","v":-1.7},{"g":"KCNA10","t":"Myometrium","v":-1.7},{"g":"KCNA10","t":"Heart","v":-1.7},{"g":"KCNA10","t":"Endometrium","v":-1.7},{"g":"KCNA10","t":"Brain_Substantia_Nigra","v":-1.7},{"g":"KCNA10","t":"Brain_Corpus_Callosum","v":-1.7},{"g":"KCNA10","t":"Adrenal_Gland","v":-1.7},{"g":"KCNA10","t":"Nipple","v":-1.7},{"g":"KCNA10","t":"Spleen","v":1.0},{"g":"KCNA10","t":"Liver","v":-1.7},{"g":"KCNA10","t":"Tonsil","v":-1.7},{"g":"KCNA10","t":"Prostate_Gland","v":-0.2},{"g":"KCNA10","t":"Lymph_Node","v":-1.7},{"g":"KCNA10","t":"Small_Intestine_Ileum","v":-1.7},{"g":"KCNA10","t":"Esophagus","v":-1.7},{"g":"KCNA10","t":"Small_Intestine_Jejunum","v":-1.7},{"g":"KCNA10","t":"Large_Intestine_Cecum","v":-1.7},{"g":"KCNA10","t":"Brain_Amygdala","v":-1.1},{"g":"KCNA10","t":"Brain_Accumbens","v":-0.2},{"g":"KCNA10","t":"Brain_Thalamus","v":-0.2},{"g":"KCNA10","t":"Brain_Hippocampus","v":-1.1},{"g":"KCNA10","t":"Brain_Occipital_Cortex","v":-1.7},{"g":"KCNA10","t":"Brain_Subthalamic_Nucleus","v":-1.7},{"g":"KCNA10","t":"Brain_Entorhinal_Cortex","v":-1.7},{"g":"KCNA10","t":"Brain_Temporal_Lobe","v":-1.7},{"g":"KCNA10","t":"Brain_Frontal_Lobe","v":-1.7},{"g":"KCNA10","t":"Brain_Putamen","v":-1.7},{"g":"KCNA10","t":"Skin","v":-1.7},{"g":"KCNA10","t":"Submandibular_Gland","v":-1.7},{"g":"KCNA10","t":"Bronchus","v":-1.7},{"g":"KCNA10","t":"Pituitary_Gland","v":1.0},{"g":"KCNA10","t":"Testis","v":6},{"g":"KCNA10","t":"Cochlea 3","v":-1.7},{"g":"KCNA10","t":"Cochlea 2","v":-0.2},{"g":"KCNA10","t":"Cochlea 1","v":1.0},{"g":"KCNA10","t":"Utricle","v":6},{"g":"KCNA10","t":"Saccule","v":8},{"g":"KCNA10","t":"Ampulla","v":6},
{"g":"AC023632.1","t":"Skeletal_Muscle","v":-0.2},{"g":"AC023632.1","t":"Myometrium","v":-0.2},{"g":"AC023632.1","t":"Heart","v":-1.1},{"g":"AC023632.1","t":"Endometrium","v":1.0},{"g":"AC023632.1","t":"Brain_Substantia_Nigra","v":-1.1},{"g":"AC023632.1","t":"Brain_Corpus_Callosum","v":-1.1},{"g":"AC023632.1","t":"Adrenal_Gland","v":-1.1},{"g":"AC023632.1","t":"Nipple","v":-1.1},{"g":"AC023632.1","t":"Spleen","v":-0.2},{"g":"AC023632.1","t":"Liver","v":-1.1},{"g":"AC023632.1","t":"Tonsil","v":-1.1},{"g":"AC023632.1","t":"Prostate_Gland","v":-1.1},{"g":"AC023632.1","t":"Lymph_Node","v":-1.1},{"g":"AC023632.1","t":"Small_Intestine_Ileum","v":-1.1},{"g":"AC023632.1","t":"Esophagus","v":-1.1},{"g":"AC023632.1","t":"Small_Intestine_Jejunum","v":-1.1},{"g":"AC023632.1","t":"Large_Intestine_Cecum","v":-1.1},{"g":"AC023632.1","t":"Brain_Amygdala","v":-1.1},{"g":"AC023632.1","t":"Brain_Accumbens","v":-1.1},{"g":"AC023632.1","t":"Brain_Thalamus","v":-1.1},{"g":"AC023632.1","t":"Brain_Hippocampus","v":-1.1},{"g":"AC023632.1","t":"Brain_Occipital_Cortex","v":-1.1},{"g":"AC023632.1","t":"Brain_Subthalamic_Nucleus","v":-0.2},{"g":"AC023632.1","t":"Brain_Entorhinal_Cortex","v":-1.1},{"g":"AC023632.1","t":"Brain_Temporal_Lobe","v":-1.1},{"g":"AC023632.1","t":"Brain_Frontal_Lobe","v":-1.1},{"g":"AC023632.1","t":"Brain_Putamen","v":-1.1},{"g":"AC023632.1","t":"Skin","v":1.0},{"g":"AC023632.1","t":"Submandibular_Gland","v":-1.1},{"g":"AC023632.1","t":"Bronchus","v":-1.1},{"g":"AC023632.1","t":"Pituitary_Gland","v":-0.2},{"g":"AC023632.1","t":"Testis","v":1.0},{"g":"AC023632.1","t":"Cochlea 3","v":-1.1},{"g":"AC023632.1","t":"Cochlea 2","v":4},{"g":"AC023632.1","t":"Cochlea 1","v":-0.2},{"g":"AC023632.1","t":"Utricle","v":4},{"g":"AC023632.1","t":"Saccule","v":4},{"g":"AC023632.1","t":"Ampulla","v":1.0},
{"g":"OC90","t":"Skeletal_Muscle","v":-1.1},{"g":"OC90","t":"Myometrium","v":-1.1},{"g":"OC90","t":"Heart","v":-1.1},{"g":"OC90","t":"Endometrium","v":-1.1},{"g":"OC90","t":"Brain_Substantia_Nigra","v":-1.1},{"g":"OC90","t":"Brain_Corpus_Callosum","v":-1.1},{"g":"OC90","t":"Adrenal_Gland","v":-1.1},{"g":"OC90","t":"Nipple","v":-1.1},{"g":"OC90","t":"Spleen","v":-1.1},{"g":"OC90","t":"Liver","v":-1.1},{"g":"OC90","t":"Tonsil","v":-1.1},{"g":"OC90","t":"Prostate_Gland","v":-1.1},{"g":"OC90","t":"Lymph_Node","v":-1.1},{"g":"OC90","t":"Small_Intestine_Ileum","v":-1.1},{"g":"OC90","t":"Esophagus","v":-1.1},{"g":"OC90","t":"Small_Intestine_Jejunum","v":-1.1},{"g":"OC90","t":"Large_Intestine_Cecum","v":-1.1},{"g":"OC90","t":"Brain_Amygdala","v":-1.1},{"g":"OC90","t":"Brain_Accumbens","v":-1.1},{"g":"OC90","t":"Brain_Thalamus","v":-1.1},{"g":"OC90","t":"Brain_Hippocampus","v":-0.2},{"g":"OC90","t":"Brain_Occipital_Cortex","v":-1.1},{"g":"OC90","t":"Brain_Subthalamic_Nucleus","v":-1.1},{"g":"OC90","t":"Brain_Entorhinal_Cortex","v":-0.2},{"g":"OC90","t":"Brain_Temporal_Lobe","v":-1.1},{"g":"OC90","t":"Brain_Frontal_Lobe","v":-1.1},{"g":"OC90","t":"Brain_Putamen","v":-1.1},{"g":"OC90","t":"Skin","v":-1.1},{"g":"OC90","t":"Submandibular_Gland","v":-1.1},{"g":"OC90","t":"Bronchus","v":-1.1},{"g":"OC90","t":"Pituitary_Gland","v":-1.1},{"g":"OC90","t":"Testis","v":1.0},{"g":"OC90","t":"Cochlea 3","v":-1.1},{"g":"OC90","t":"Cochlea 2","v":1.0},{"g":"OC90","t":"Cochlea 1","v":4},{"g":"OC90","t":"Utricle","v":10.5},{"g":"OC90","t":"Saccule","v":1.0},{"g":"OC90","t":"Ampulla","v":6},
{"g":"HHLA1","t":"Skeletal_Muscle","v":-3.0},{"g":"HHLA1","t":"Myometrium","v":-2.3},{"g":"HHLA1","t":"Heart","v":-2.3},{"g":"HHLA1","t":"Endometrium","v":-2.3},{"g":"HHLA1","t":"Brain_Substantia_Nigra","v":-3.0},{"g":"HHLA1","t":"Brain_Corpus_Callosum","v":-0.2},{"g":"HHLA1","t":"Adrenal_Gland","v":-3.0},{"g":"HHLA1","t":"Nipple","v":-3.0},{"g":"HHLA1","t":"Spleen","v":-2.3},{"g":"HHLA1","t":"Liver","v":-3.0},{"g":"HHLA1","t":"Tonsil","v":-2.3},{"g":"HHLA1","t":"Prostate_Gland","v":-2.3},{"g":"HHLA1","t":"Lymph_Node","v":-2.3},{"g":"HHLA1","t":"Small_Intestine_Ileum","v":-2.3},{"g":"HHLA1","t":"Esophagus","v":-2.3},{"g":"HHLA1","t":"Small_Intestine_Jejunum","v":-2.3},{"g":"HHLA1","t":"Large_Intestine_Cecum","v":-1.1},{"g":"HHLA1","t":"Brain_Amygdala","v":-1.1},{"g":"HHLA1","t":"Brain_Accumbens","v":-3.6},{"g":"HHLA1","t":"Brain_Thalamus","v":-0.2},{"g":"HHLA1","t":"Brain_Hippocampus","v":1.0},{"g":"HHLA1","t":"Brain_Occipital_Cortex","v":-1.1},{"g":"HHLA1","t":"Brain_Subthalamic_Nucleus","v":-1.1},{"g":"HHLA1","t":"Brain_Entorhinal_Cortex","v":2.5},{"g":"HHLA1","t":"Brain_Temporal_Lobe","v":1.0},{"g":"HHLA1","t":"Brain_Frontal_Lobe","v":2.5},{"g":"HHLA1","t":"Brain_Putamen","v":-1.1},{"g":"HHLA1","t":"Skin","v":-3.0},{"g":"HHLA1","t":"Submandibular_Gland","v":-3.0},{"g":"HHLA1","t":"Bronchus","v":-3.0},{"g":"HHLA1","t":"Pituitary_Gland","v":-3.0},{"g":"HHLA1","t":"Testis","v":1.0},{"g":"HHLA1","t":"Cochlea 3","v":2.5},{"g":"HHLA1","t":"Cochlea 2","v":4},{"g":"HHLA1","t":"Cochlea 1","v":6},{"g":"HHLA1","t":"Utricle","v":10.5},{"g":"HHLA1","t":"Saccule","v":6},{"g":"HHLA1","t":"Ampulla","v":13},
{"g":"OTOL1","t":"Skeletal_Muscle","v":-1.7},{"g":"OTOL1","t":"Myometrium","v":-2.3},{"g":"OTOL1","t":"Heart","v":-2.3},{"g":"OTOL1","t":"Endometrium","v":-2.3},{"g":"OTOL1","t":"Brain_Substantia_Nigra","v":-1.1},{"g":"OTOL1","t":"Brain_Corpus_Callosum","v":-0.2},{"g":"OTOL1","t":"Adrenal_Gland","v":-3.0},{"g":"OTOL1","t":"Nipple","v":-2.3},{"g":"OTOL1","t":"Spleen","v":-2.3},{"g":"OTOL1","t":"Liver","v":-2.3},{"g":"OTOL1","t":"Tonsil","v":-2.3},{"g":"OTOL1","t":"Prostate_Gland","v":-2.3},{"g":"OTOL1","t":"Lymph_Node","v":-2.3},{"g":"OTOL1","t":"Small_Intestine_Ileum","v":-2.3},{"g":"OTOL1","t":"Esophagus","v":-2.3},{"g":"OTOL1","t":"Small_Intestine_Jejunum","v":-1.7},{"g":"OTOL1","t":"Large_Intestine_Cecum","v":-2.3},{"g":"OTOL1","t":"Brain_Amygdala","v":-1.1},{"g":"OTOL1","t":"Brain_Accumbens","v":-1.1},{"g":"OTOL1","t":"Brain_Thalamus","v":-3.0},{"g":"OTOL1","t":"Brain_Hippocampus","v":1.0},{"g":"OTOL1","t":"Brain_Occipital_Cortex","v":-1.1},{"g":"OTOL1","t":"Brain_Subthalamic_Nucleus","v":2.5},{"g":"OTOL1","t":"Brain_Entorhinal_Cortex","v":1.0},{"g":"OTOL1","t":"Brain_Temporal_Lobe","v":2.5},{"g":"OTOL1","t":"Brain_Frontal_Lobe","v":1.0},{"g":"OTOL1","t":"Brain_Putamen","v":-1.1},{"g":"OTOL1","t":"Skin","v":-3.0},{"g":"OTOL1","t":"Submandibular_Gland","v":-3.0},{"g":"OTOL1","t":"Bronchus","v":-3.0},{"g":"OTOL1","t":"Pituitary_Gland","v":-3.0},{"g":"OTOL1","t":"Testis","v":1.0},{"g":"OTOL1","t":"Cochlea 3","v":4},{"g":"OTOL1","t":"Cochlea 2","v":-0.2},{"g":"OTOL1","t":"Cochlea 1","v":8},{"g":"OTOL1","t":"Utricle","v":10.5},{"g":"OTOL1","t":"Saccule","v":10.5},{"g":"OTOL1","t":"Ampulla","v":8},
{"g":"AL353583.1","t":"Skeletal_Muscle","v":-3.6},{"g":"AL353583.1","t":"Myometrium","v":-3.6},{"g":"AL353583.1","t":"Heart","v":-3.6},{"g":"AL353583.1","t":"Endometrium","v":-3.6},{"g":"AL353583.1","t":"Brain_Substantia_Nigra","v":-0.2},{"g":"AL353583.1","t":"Brain_Corpus_Callosum","v":-0.2},{"g":"AL353583.1","t":"Adrenal_Gland","v":-3.6},{"g":"AL353583.1","t":"Nipple","v":-3.6},{"g":"AL353583.1","t":"Spleen","v":-3.0},{"g":"AL353583.1","t":"Liver","v":-2.3},{"g":"AL353583.1","t":"Tonsil","v":-1.1},{"g":"AL353583.1","t":"Prostate_Gland","v":-2.3},{"g":"AL353583.1","t":"Lymph_Node","v":-3.0},{"g":"AL353583.1","t":"Small_Intestine_Ileum","v":-2.3},{"g":"AL353583.1","t":"Esophagus","v":-3.0},{"g":"AL353583.1","t":"Small_Intestine_Jejunum","v":-3.6},{"g":"AL353583.1","t":"Large_Intestine_Cecum","v":-1.1},{"g":"AL353583.1","t":"Brain_Amygdala","v":-0.2},{"g":"AL353583.1","t":"Brain_Accumbens","v":-1.1},{"g":"AL353583.1","t":"Brain_Thalamus","v":-1.1},{"g":"AL353583.1","t":"Brain_Hippocampus","v":1.0},{"g":"AL353583.1","t":"Brain_Occipital_Cortex","v":-1.1},{"g":"AL353583.1","t":"Brain_Subthalamic_Nucleus","v":-1.1},{"g":"AL353583.1","t":"Brain_Entorhinal_Cortex","v":1.0},{"g":"AL353583.1","t":"Brain_Temporal_Lobe","v":-1.1},{"g":"AL353583.1","t":"Brain_Frontal_Lobe","v":1.0},{"g":"AL353583.1","t":"Brain_Putamen","v":2.5},{"g":"AL353583.1","t":"Skin","v":1.0},{"g":"AL353583.1","t":"Submandibular_Gland","v":2.5},{"g":"AL353583.1","t":"Bronchus","v":-0.2},{"g":"AL353583.1","t":"Pituitary_Gland","v":-1.1},{"g":"AL353583.1","t":"Testis","v":1.0},{"g":"AL353583.1","t":"Cochlea 3","v":2.5},{"g":"AL353583.1","t":"Cochlea 2","v":4},{"g":"AL353583.1","t":"Cochlea 1","v":6},{"g":"AL353583.1","t":"Utricle","v":6},{"g":"AL353583.1","t":"Saccule","v":8},{"g":"AL353583.1","t":"Ampulla","v":6}
]
},
"vconcat": [
{
"width": 539, "height": 74,
"data": {"name": "coltree"},
"layer": [
{"mark": {"type": "rule", "color": "#4d4d4d", "strokeWidth": 1},
 "encoding": {
  "x": {"field": "cp", "type": "quantitative", "scale": {"domain": [-10.7667, 38], "nice": false, "zero": false}, "axis": null},
  "y": {"field": "ch", "type": "quantitative", "scale": {"domain": [0, 74], "nice": false}, "axis": null},
  "y2": {"field": "ph"}}},
{"mark": {"type": "rule", "color": "#4d4d4d", "strokeWidth": 1},
 "encoding": {
  "x": {"field": "cp", "type": "quantitative", "scale": {"domain": [-10.7667, 38], "nice": false, "zero": false}, "axis": null},
  "x2": {"field": "pp"},
  "y": {"field": "ph", "type": "quantitative", "scale": {"domain": [0, 74], "nice": false}, "axis": null}}}
]
},
{
"spacing": 4,
"bounds": "flush",
"hconcat": [
{
"width": 115, "height": 303,
"data": {"name": "rowtree"},
"layer": [
{"mark": {"type": "rule", "color": "#4d4d4d", "strokeWidth": 1},
 "encoding": {
  "x": {"field": "ch", "type": "quantitative", "scale": {"domain": [0, 115], "nice": false, "reverse": true}, "axis": null},
  "x2": {"field": "ph"},
  "y": {"field": "cp", "type": "quantitative", "scale": {"domain": [0, 20], "nice": false, "reverse": true}, "axis": null}}},
{"mark": {"type": "rule", "color": "#4d4d4d", "strokeWidth": 1},
 "encoding": {
  "x": {"field": "ph", "type": "quantitative", "scale": {"domain": [0, 115], "nice": false, "reverse": true}, "axis": null},
  "y": {"field": "cp", "type": "quantitative", "scale": {"domain": [0, 20], "nice": false, "reverse": true}, "axis": null},
  "y2": {"field": "pp"}}}
]
},
{
"width": 420, "height": 303,
"data": {"name": "cells"},
"mark": {"type": "rect", "stroke": "#b4b4b4", "strokeWidth": 0.6},
"encoding": {
 "x": {"field": "t", "type": "nominal", "sort": ["Skeletal_Muscle","Myometrium","Heart","Endometrium","Brain_Substantia_Nigra","Brain_Corpus_Callosum","Adrenal_Gland","Nipple","Spleen","Liver","Tonsil","Prostate_Gland","Lymph_Node","Small_Intestine_Ileum","Esophagus","Small_Intestine_Jejunum","Large_Intestine_Cecum","Brain_Amygdala","Brain_Accumbens","Brain_Thalamus","Brain_Hippocampus","Brain_Occipital_Cortex","Brain_Subthalamic_Nucleus","Brain_Entorhinal_Cortex","Brain_Temporal_Lobe","Brain_Frontal_Lobe","Brain_Putamen","Skin","Submandibular_Gland","Bronchus","Pituitary_Gland","Testis","Cochlea 3","Cochlea 2","Cochlea 1","Utricle","Saccule","Ampulla"],
  "scale": {"paddingInner": 0, "paddingOuter": 0},
  "axis": {"orient": "bottom", "title": null, "labelAngle": -90, "domain": false, "ticks": false, "tickSize": 0, "labelPadding": 9, "labelFont": "Liberation Sans", "labelFontSize": 8.5, "labelColor": "#1a1a1a"}},
 "y": {"field": "g", "type": "nominal", "sort": ["OTOR","CABP2","SSX1","UCMA","GPX6","AC007461.1","COCH","NCMAP","GRXCR1","TNFRSF11B","NOX3","ZP2","RP11-351M8.1","MIA","KCNA10","AC023632.1","OC90","HHLA1","OTOL1","AL353583.1"],
  "scale": {"paddingInner": 0, "paddingOuter": 0},
  "axis": {"orient": "right", "title": null, "domain": false, "ticks": false, "tickSize": 0, "labelPadding": 9, "labelFont": "Liberation Sans", "labelFontSize": 7.5, "labelColor": "#1a1a1a"}},
 "color": {"field": "v", "type": "quantitative",
  "scale": {"domain": [-4.2, 1.3, 20.3], "range": ["#2f7fc1", "#ffffff", "#e41f26"], "interpolate": "rgb"},
  "legend": {"orient": "none", "legendX": 29, "legendY": 2, "direction": "horizontal", "title": "rLog(count)", "titleFontSize": 9.5, "titleFontWeight": "bold", "titleFont": "Liberation Sans", "titleColor": "#1a1a1a", "titleAnchor": "middle", "titlePadding": 2, "gradientLength": 82, "gradientThickness": 21, "gradientStrokeWidth": 0, "values": [0, 5, 10, 15, 20], "labelFontSize": 8.5, "labelFont": "Liberation Sans", "labelColor": "#333333", "labelOffset": 8}}
}
}
]
}
]
}
